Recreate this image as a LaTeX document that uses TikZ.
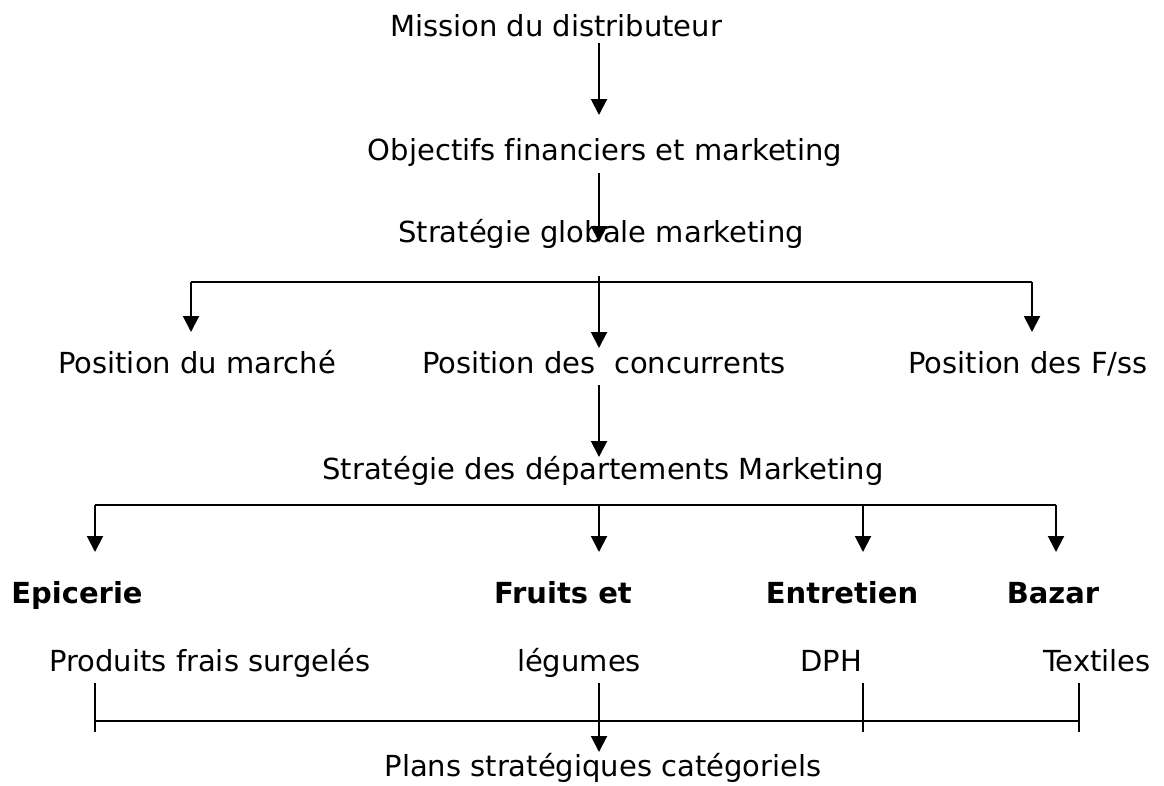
\documentclass[tikz,border=0pt]{standalone}
\usepackage{fontspec}
\setmainfont[Ligatures=CommonOff]{DejaVu Sans}
\usetikzlibrary{arrows.meta}
\begin{document}
\begin{tikzpicture}[x=1pt,y=-1pt,
  lbl/.style={anchor=base, inner sep=0pt, font=\fontsize{29}{34}\selectfont},
  blbl/.style={anchor=base, inner sep=0pt, font=\fontsize{29}{34}\selectfont\bfseries},
  link/.style={line width=2pt},
  arr/.style={link, -{Triangle[width=16pt,length=16pt]}}]
\useasboundingbox (0,0) rectangle (1164,785);

% levels of the chart
\node[lbl] (mission)   at (556,36)  {Mission du distributeur};
\node[lbl] (objectifs) at (605,160) {Objectifs financiers et marketing};
\node[lbl] (strat)     at (601,242) {Stratégie globale marketing};
\node[lbl] (posmarche) at (197,373) {Position du marché};
\node[lbl] (poscon)    at (604,373) {Position des\ \ concurrents};
\node[lbl] (posfss)    at (1028,373) {Position des F/ss};
\node[lbl] (stratdep)  at (603,479) {Stratégie des départements Marketing};

\node[blbl] (epicerie)  at (77,603)  {Epicerie};
\node[blbl] (fruits)    at (563,603) {Fruits et};
\node[blbl] (entretien) at (842,603) {Entretien};
\node[blbl] (bazar)     at (1053,603) {Bazar};

\node[lbl] (produits) at (210,671) {Produits frais surgelés};
\node[lbl] (legumes)  at (579,671) {légumes};
\node[lbl] (dph)      at (831,671) {DPH};
\node[lbl] (textiles) at (1097,671) {Textiles};
\node[lbl] (plans)    at (603,776) {Plans stratégiques catégoriels};

% main vertical axis and branching points
\coordinate (axis) at (599,0);
\coordinate (busAL) at (191,282);
\coordinate (busAR) at (1032,282);
\coordinate (busBL) at (95,505);
\coordinate (busBR) at (1056,505);
\coordinate (busBE) at (863,505);
\coordinate (brL) at (95,721);
\coordinate (brM) at (863,721);
\coordinate (brR) at (1079,721);

% top chain
\draw[arr, shorten <=7pt, shorten >=45pt] (mission.base -| axis) -- (objectifs.base -| axis);
\draw[arr, shorten <=13pt] (objectifs.base -| axis) -- (strat.base -| axis);
\draw[arr, shorten <=34pt, shorten >=25pt] (strat.base -| axis) -- (poscon.base -| axis);

% first branching
\draw[link] (busAL) -- (busAR);
\draw[arr, shorten >=41pt] (busAL) -- (busAL |- posmarche.base);
\draw[arr, shorten >=41pt] (busAR) -- (busAR |- posfss.base);

\draw[arr, shorten <=12pt, shorten >=22pt] (poscon.base -| axis) -- (stratdep.base -| axis);

% departments
\draw[link] (busBL) -- (busBR);
\draw[arr, shorten >=51pt] (busBL) -- (busBL |- epicerie.base);
\draw[arr, shorten >=51pt] (busBL -| axis) -- (fruits.base -| axis);
\draw[arr, shorten >=51pt] (busBE) -- (busBE |- entretien.base);
\draw[arr, shorten >=51pt] (busBR) -- (busBR |- bazar.base);

% category bracket
\draw[link] (brL) -- (brR);
\foreach \t in {brL,brM,brR}
  \draw[link] (\t) ++(0,-38) -- ++(0,49);
\draw[arr, shorten <=12pt, shorten >=24pt] (legumes.base -| axis) -- (plans.base -| axis);
\end{tikzpicture}
\end{document}
